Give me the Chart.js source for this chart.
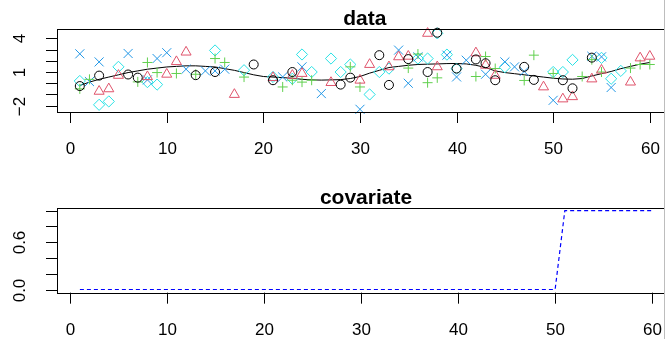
<!DOCTYPE html>
<html>
<head>
<meta charset="utf-8">
<script src="https://cdn.jsdelivr.net/npm/chart.js@4/dist/chart.umd.min.js"></script>
<style>
html,body{margin:0;padding:0;background:#fff;}
body{width:665px;height:339px;overflow:hidden;position:relative;}
canvas{position:absolute;left:0;}
#edge{position:absolute;left:664px;top:0;width:1px;height:339px;background:#bdbdbd;}
</style>
</head>
<body>
<canvas id="c1" width="680" height="170" style="top:0;width:680px;height:170px"></canvas>
<canvas id="c2" width="680" height="169" style="top:170px;width:680px;height:169px"></canvas>
<div id="edge"></div>
<script>
// ---------- data ----------
const timeIdx = Array.from({length: 60}, (_, i) => i + 1);
const _ = null;
// series 1: black circles
const seriesCircle = [-0.25,_,0.68,_,_,0.78,0.5,_,_,_, _,_,0.72,_,1.0,_,_,_,1.67,_, 0.27,_,1.0,_,_,_,_,-0.12,0.5,_, _,2.5,-0.15,_,2.15,_,1.0,4.5,_,1.31, _,2.12,1.78,0.27,_,_,1.46,0.3,_,_, 0.27,-0.45,_,2.28,_,_,_,_,_,_];
// series 2: red triangles
const seriesTriangle = [_,_,-0.72,-0.5,0.7,_,_,0.58,_,0.8, 1.92,2.77,_,_,_,_,-1.0,_,_,_, 0.5,_,0.7,0.87,_,_,0.06,_,_,0.27, 1.67,_,1.46,2.35,2.4,_,4.44,1.46,_,_, _,2.7,1.6,0.7,_,_,_,_,-0.33,_, -1.4,-1.2,_,0.38,1.16,_,_,0.1,2.25,2.4];
// series 3: green plus
const seriesPlus = [-0.5,0.35,_,_,_,_,0.12,1.85,0.95,_, 0.87,_,0.8,_,2.2,1.85,_,0.55,_,_, _,-0.33,0.27,0.1,0.27,_,_,_,1.46,-0.33, _,_,_,_,1.35,2.6,0.05,0.48,_,_, _,0.6,2.38,1.31,_,_,0.25,2.5,_,0.87, _,_,0.6,2.1,1.0,_,_,1.35,1.67,1.67];
// series 4: blue crosses
const seriesCross = [2.62,0.15,1.9,_,_,2.65,_,0.3,2.2,2.72, _,1.25,_,1.1,1.1,1.25,_,_,_,_, _,0.56,_,1.46,_,-0.92,_,_,_,-2.32, _,_,_,2.95,0.0,2.35,_,_,2.5,0.56, 2.05,_,0.8,_,1.9,1.46,1.05,_,_,-1.52, _,_,_,2.4,2.35,-0.38,_,_,_,_];
// series 5: cyan diamonds
const seriesDiamond = [0.2,_,-1.92,-1.62,1.46,_,_,0.1,-0.12,_, _,_,_,_,2.92,_,_,1.16,_,_, 0.56,_,0.4,2.56,1.0,_,2.2,1.0,1.67,_, -1.0,1.0,1.3,_,_,2.2,2.2,4.44,2.55,1.3, _,_,_,_,1.43,_,_,_,_,1.0, 1.0,2.08,_,_,2.26,0.4,1.1,_,_,_];
// smooth trend line
const smoothLine = [-0.2,0.1,0.35,0.55,0.75,0.95,1.1,1.25,1.35,1.45, 1.5,1.55,1.55,1.5,1.45,1.3,1.15,0.95,0.75,0.6, 0.55,0.5,0.45,0.35,0.3,0.28,0.3,0.32,0.42,0.6, 0.9,1.15,1.4,1.5,1.6,1.67,1.7,1.72,1.75,1.76, 1.72,1.6,1.4,1.1,0.95,0.85,0.75,0.65,0.55,0.45, 0.38,0.36,0.42,0.65,0.85,1.05,1.3,1.5,1.7,1.85];
// covariate
const covariate = [0,0,0,0,0,0,0,0,0,0, 0,0,0,0,0,0,0,0,0,0, 0,0,0,0,0,0,0,0,0,0, 0,0,0,0,0,0,0,0,0,0, 0,0,0,0,0,0,0,0,0,0, 1,1,1,1,1,1,1,1,1,1];

const xTicks = [0,10,20,30,40,50,60];
const yTicksTop = [-2,-1,0,1,2,3,4];
const yLabelsTop = {"-2":"\u22122","1":"1","4":"4"};
const yTicksBot = [0,0.2,0.4,0.6,0.8,1.0];
const yLabelsBot = {"0":"0.0","0.6":"0.6"};

// ---------- helpers ----------
const pts = arr => timeIdx.map((t, i) => ({x: t, y: arr[i]})).filter(p => p.y !== null);
const FONT = '"Liberation Sans", Arial, Helvetica, sans-serif';

function framePlugin(title, yTicks, yLabels) {
  return {
    id: 'frame',
    afterDraw(chart) {
      const {ctx, chartArea: a, scales: {x, y}} = chart;
      ctx.save();
      ctx.strokeStyle = '#000';
      ctx.fillStyle = '#000';
      ctx.lineWidth = 1;
      ctx.strokeRect(Math.round(a.left) + 0.5, Math.round(a.top) + 0.5,
                     Math.round(a.right - a.left), Math.round(a.bottom - a.top));
      const TL = 11;
      ctx.font = '17px ' + FONT;
      ctx.textAlign = 'center';
      ctx.textBaseline = 'alphabetic';
      xTicks.forEach(v => {
        const px = Math.round(x.getPixelForValue(v)) + 0.5;
        ctx.beginPath(); ctx.moveTo(px, a.bottom); ctx.lineTo(px, a.bottom + TL); ctx.stroke();
        ctx.fillText(String(v), px, a.bottom + 42);
      });
      yTicks.forEach(v => {
        const py = Math.round(y.getPixelForValue(v)) + 0.5;
        ctx.beginPath(); ctx.moveTo(a.left - TL, py); ctx.lineTo(a.left, py); ctx.stroke();
        const key = String(+v.toFixed(1));
        if (yLabels[key] !== undefined) {
          ctx.save();
          ctx.translate(25, py);
          ctx.rotate(-Math.PI / 2);
          ctx.textAlign = 'center';
          ctx.textBaseline = 'alphabetic';
          ctx.fillText(yLabels[key], 0, 0);
          ctx.restore();
        }
      });
      ctx.font = 'bold 21px ' + FONT;
      ctx.textAlign = 'center';
      ctx.fillText(title, (a.left + a.right) / 2, a.top - 4);
      ctx.restore();
    }
  };
}

const ptDS = (arr, style, color, r) => ({
  type: 'scatter', data: pts(arr), pointStyle: style, pointRadius: r,
  pointBorderColor: color, pointBackgroundColor: 'rgba(0,0,0,0)', pointBorderWidth: 1,
  borderColor: color, showLine: false
});

// ---------- top chart ----------
new Chart(document.getElementById('c1'), {
  type: 'scatter',
  data: {
    datasets: [
      ptDS(seriesCircle, 'circle', '#000000', 4.5),
      ptDS(seriesTriangle, 'triangle', '#DF536B', 5.8),
      ptDS(seriesPlus, 'cross', '#61D04F', 5),
      ptDS(seriesCross, 'crossRot', '#2297E6', 6.4),
      ptDS(seriesDiamond, 'rectRot', '#28E2E5', 5.6),
      { type: 'line', data: pts(smoothLine), borderColor: '#000', borderWidth: 1,
        pointRadius: 0, tension: 0, fill: false }
    ]
  },
  options: {
    responsive: false, animation: false, devicePixelRatio: 1,
    layout: { padding: { left: 57, top: 29, right: 5, bottom: 58 } },
    scales: {
      x: { type: 'linear', min: -1.36, max: 62.36, display: false },
      y: { type: 'linear', min: -2.56, max: 4.83, display: false }
    },
    plugins: { legend: { display: false }, tooltip: { enabled: false } },
    clip: false
  },
  plugins: [framePlugin('data', yTicksTop, yLabelsTop)]
});

// ---------- bottom chart ----------
new Chart(document.getElementById('c2'), {
  type: 'line',
  data: {
    datasets: [
      { data: pts(covariate), borderColor: '#0000FF', borderWidth: 1.2, borderDash: [4, 3],
        pointRadius: 0, tension: 0, fill: false }
    ]
  },
  options: {
    responsive: false, animation: false, devicePixelRatio: 1,
    layout: { padding: { left: 57, top: 37.5, right: 5, bottom: 46.34 } },
    scales: {
      x: { type: 'linear', min: -1.36, max: 62.36, display: false },
      y: { type: 'linear', min: -0.04, max: 1.04, display: false }
    },
    plugins: { legend: { display: false }, tooltip: { enabled: false } }
  },
  plugins: [framePlugin('covariate', yTicksBot, yLabelsBot)]
});
</script>
</body>
</html>
